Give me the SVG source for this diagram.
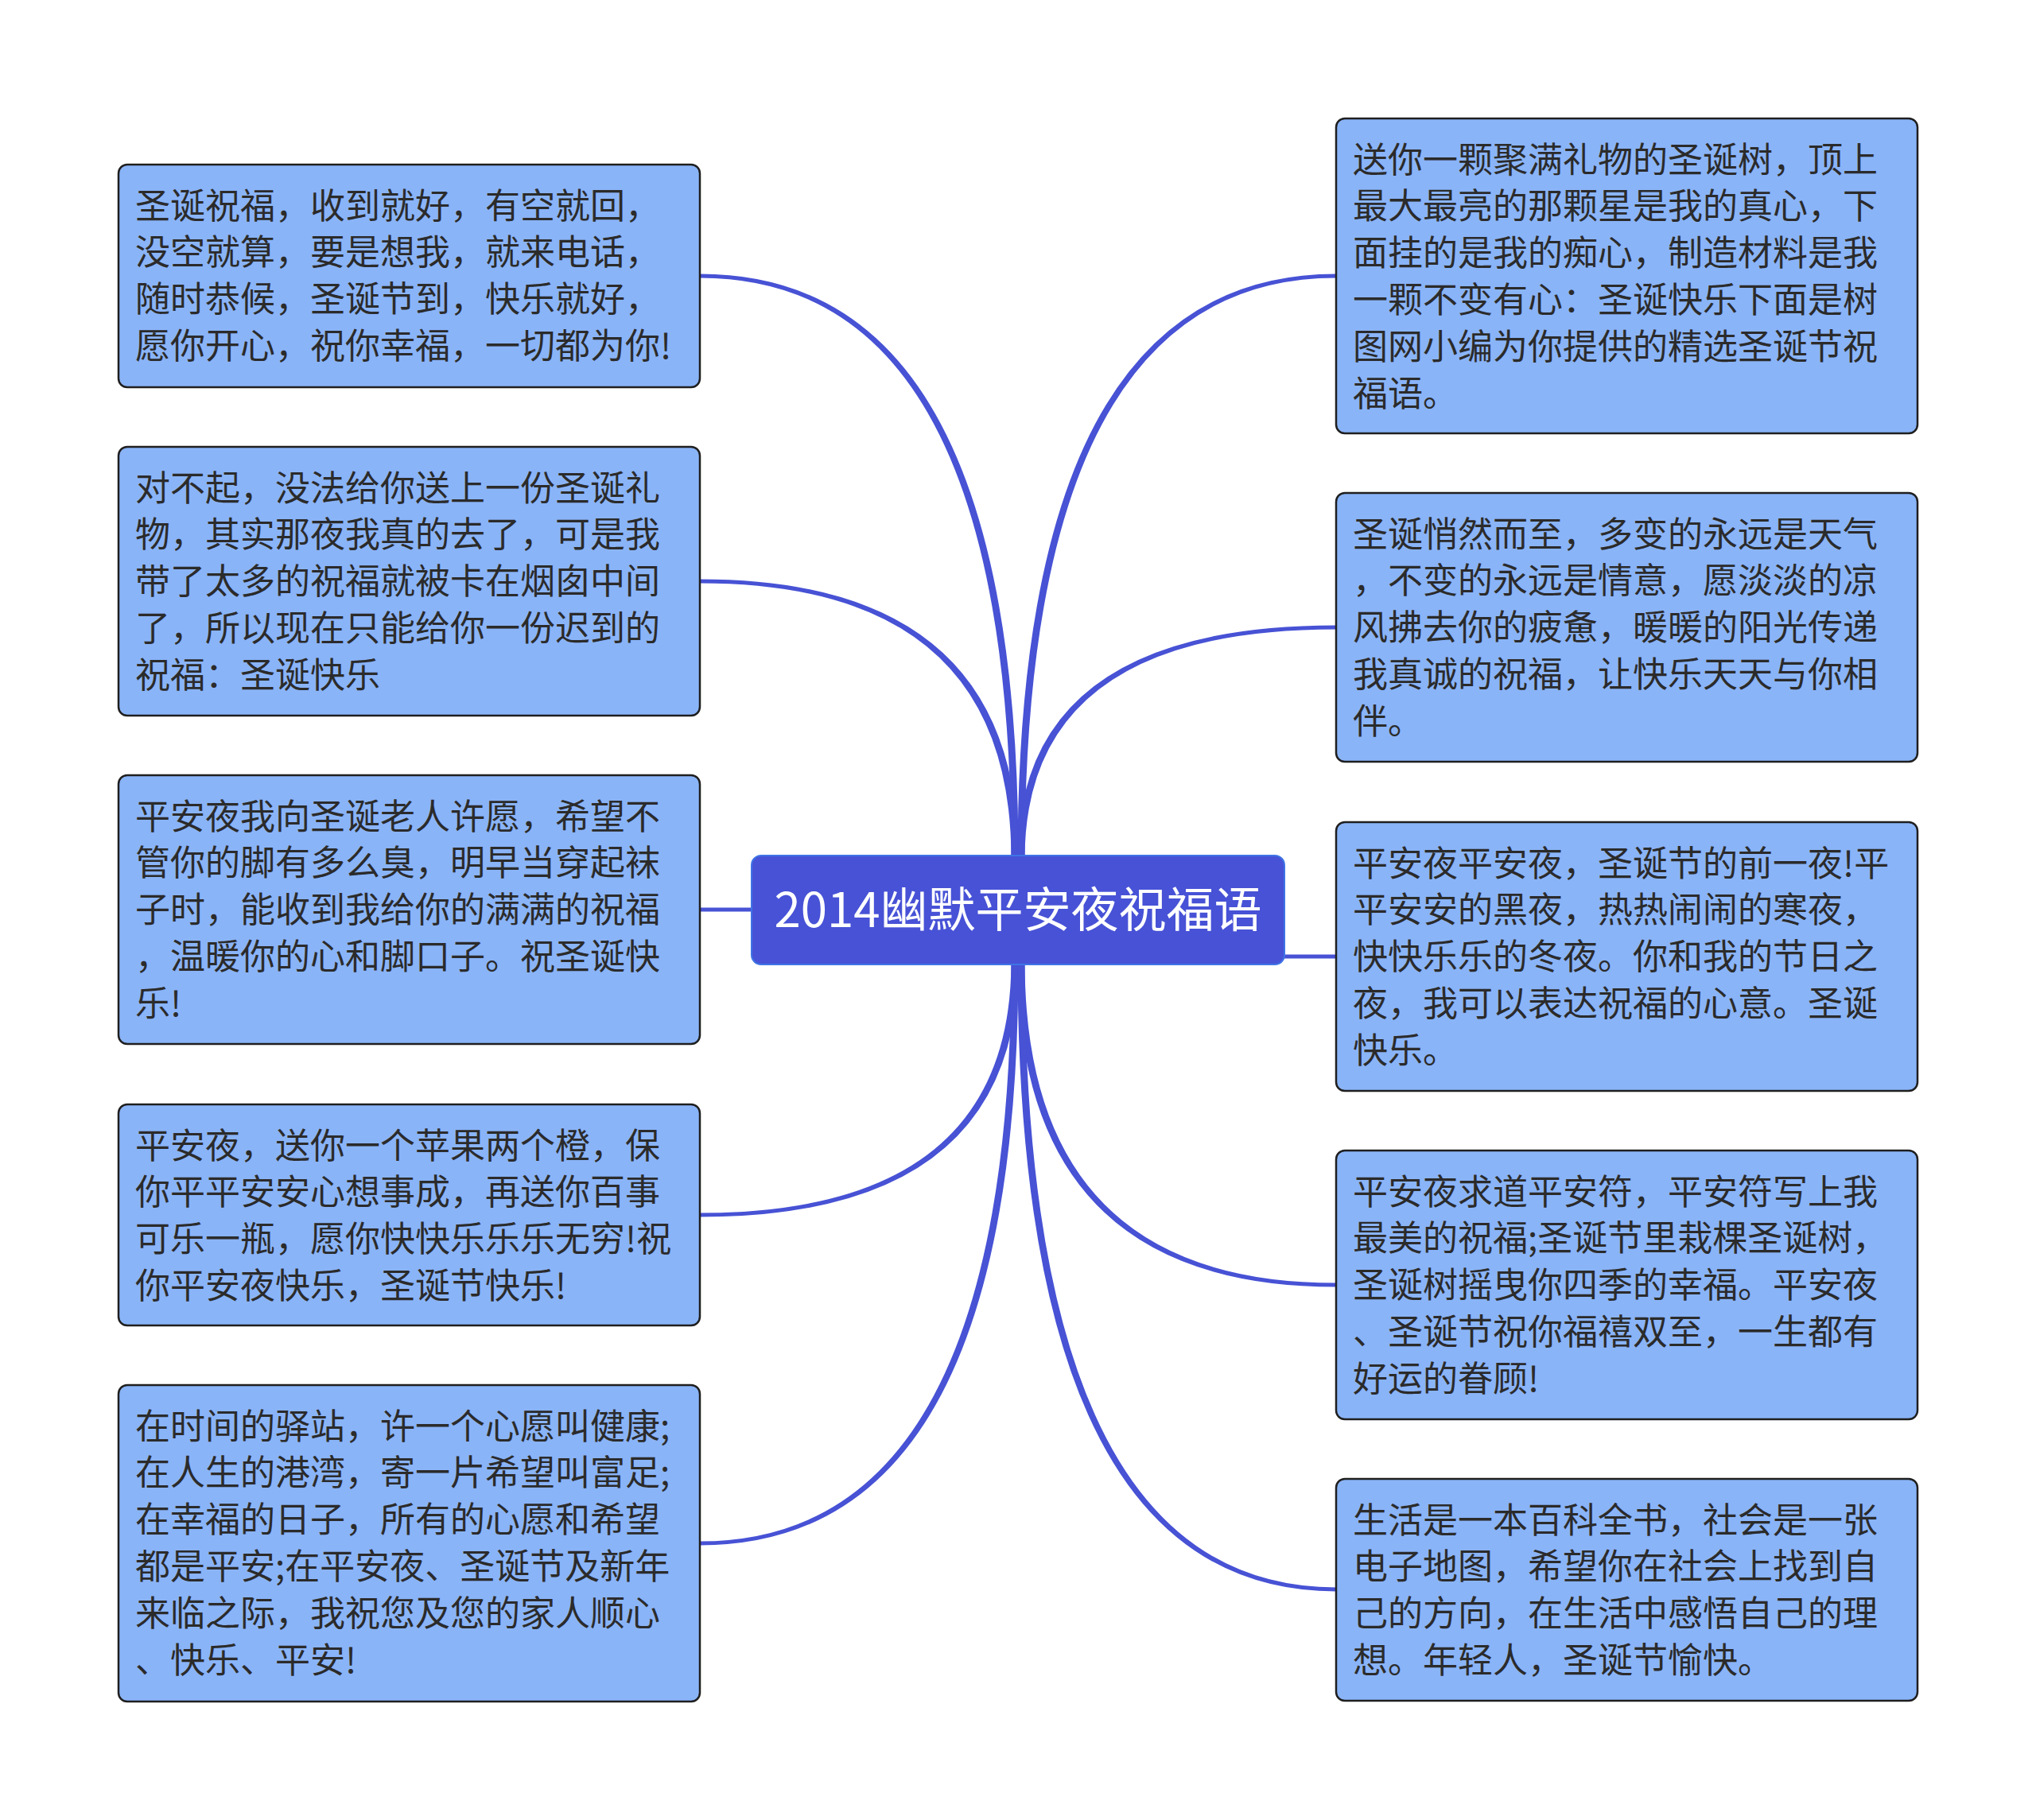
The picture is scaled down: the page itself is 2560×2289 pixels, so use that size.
<svg xmlns="http://www.w3.org/2000/svg" width="2560" height="2289" viewBox="0 0 2560 2289">
<style>
.node rect{fill:#8ab4f8;stroke:#1f1f1f;stroke-width:2.5}
.node text{font-family:"Noto Sans CJK SC","Noto Sans",sans-serif;font-size:44px;fill:#2b2b2b}
.conn path{fill:#4752d5;stroke:none}
.conn line{stroke:#4752d5;stroke-width:5}
#center rect{fill:#4752d6;stroke:#3f74e6;stroke-width:2}
#center text{font-family:"Noto Sans CJK SC","Noto Sans",sans-serif;font-size:60px;fill:#ffffff;text-anchor:middle}
</style>
<rect width="2560" height="2289" fill="#ffffff"/>
<g class="conn" id="connectors">
<path d="M880,344.5 Q1280.5,344.5 1280.5,1080 L1271.5,1080 Q1271.5,349.5 880,349.5Z"/>
<path d="M880,728.5 Q1280.5,728.5 1280.5,1080 L1271.5,1080 Q1271.5,733.5 880,733.5Z"/>
<line x1="878" y1="1144" x2="950" y2="1144"/>
<path d="M880,1530.5 Q1280.5,1530.5 1280.5,1209 L1271.5,1209 Q1271.5,1525.5 880,1525.5Z"/>
<path d="M880,1943.5 Q1280.5,1943.5 1280.5,1209 L1271.5,1209 Q1271.5,1938.5 880,1938.5Z"/>
<path d="M1680,344.5 Q1279.5,344.5 1279.5,1080 L1288.5,1080 Q1288.5,349.5 1680,349.5Z"/>
<path d="M1680,786.5 Q1279.5,786.5 1279.5,1080 L1288.5,1080 Q1288.5,791.5 1680,791.5Z"/>
<line x1="1610" y1="1203" x2="1682" y2="1203"/>
<path d="M1680,1618.5 Q1279.5,1618.5 1279.5,1209 L1288.5,1209 Q1288.5,1613.5 1680,1613.5Z"/>
<path d="M1680,2001.5 Q1279.5,2001.5 1279.5,1209 L1288.5,1209 Q1288.5,1996.5 1680,1996.5Z"/>
</g>
<g id="center">
<rect x="945" y="1076" width="670" height="137" rx="12"/>
<text x="1280" y="1166">2014幽默平安夜祝福语</text>
</g>
<g class="node" id="left1">
<rect x="149" y="207" width="731" height="280" rx="11"/>
<text x="170" y="274.5">圣诞祝福，收到就好，有空就回，</text>
<text x="170" y="333.3">没空就算，要是想我，就来电话，</text>
<text x="170" y="392.1">随时恭候，圣诞节到，快乐就好，</text>
<text x="170" y="450.9">愿你开心，祝你幸福，一切都为你!</text>
</g>
<g class="node" id="left2">
<rect x="149" y="562" width="731" height="338" rx="11"/>
<text x="170" y="629.5">对不起，没法给你送上一份圣诞礼</text>
<text x="170" y="688.3">物，其实那夜我真的去了，可是我</text>
<text x="170" y="747.1">带了太多的祝福就被卡在烟囱中间</text>
<text x="170" y="805.9">了，所以现在只能给你一份迟到的</text>
<text x="170" y="864.7">祝福：圣诞快乐</text>
</g>
<g class="node" id="left3">
<rect x="149" y="975" width="731" height="338" rx="11"/>
<text x="170" y="1042.5">平安夜我向圣诞老人许愿，希望不</text>
<text x="170" y="1101.3">管你的脚有多么臭，明早当穿起袜</text>
<text x="170" y="1160.1">子时，能收到我给你的满满的祝福</text>
<text x="170" y="1218.9">，温暖你的心和脚口子。祝圣诞快</text>
<text x="170" y="1277.7">乐!</text>
</g>
<g class="node" id="left4">
<rect x="149" y="1389" width="731" height="278" rx="11"/>
<text x="170" y="1456.5">平安夜，送你一个苹果两个橙，保</text>
<text x="170" y="1515.3">你平平安安心想事成，再送你百事</text>
<text x="170" y="1574.1">可乐一瓶，愿你快快乐乐乐无穷!祝</text>
<text x="170" y="1632.9">你平安夜快乐，圣诞节快乐!</text>
</g>
<g class="node" id="left5">
<rect x="149" y="1742" width="731" height="398" rx="11"/>
<text x="170" y="1809.5">在时间的驿站，许一个心愿叫健康;</text>
<text x="170" y="1868.3">在人生的港湾，寄一片希望叫富足;</text>
<text x="170" y="1927.1">在幸福的日子，所有的心愿和希望</text>
<text x="170" y="1985.9">都是平安;在平安夜、圣诞节及新年</text>
<text x="170" y="2044.7">来临之际，我祝您及您的家人顺心</text>
<text x="170" y="2103.5">、快乐、平安!</text>
</g>
<g class="node" id="right1">
<rect x="1680" y="149" width="731" height="396" rx="11"/>
<text x="1701" y="216.5">送你一颗聚满礼物的圣诞树，顶上</text>
<text x="1701" y="275.3">最大最亮的那颗星是我的真心，下</text>
<text x="1701" y="334.1">面挂的是我的痴心，制造材料是我</text>
<text x="1701" y="392.9">一颗不变有心：圣诞快乐下面是树</text>
<text x="1701" y="451.7">图网小编为你提供的精选圣诞节祝</text>
<text x="1701" y="510.5">福语。</text>
</g>
<g class="node" id="right2">
<rect x="1680" y="620" width="731" height="338" rx="11"/>
<text x="1701" y="687.5">圣诞悄然而至，多变的永远是天气</text>
<text x="1701" y="746.3">，不变的永远是情意，愿淡淡的凉</text>
<text x="1701" y="805.1">风拂去你的疲惫，暖暖的阳光传递</text>
<text x="1701" y="863.9">我真诚的祝福，让快乐天天与你相</text>
<text x="1701" y="922.7">伴。</text>
</g>
<g class="node" id="right3">
<rect x="1680" y="1034" width="731" height="338" rx="11"/>
<text x="1701" y="1101.5">平安夜平安夜，圣诞节的前一夜!平</text>
<text x="1701" y="1160.3">平安安的黑夜，热热闹闹的寒夜，</text>
<text x="1701" y="1219.1">快快乐乐的冬夜。你和我的节日之</text>
<text x="1701" y="1277.9">夜，我可以表达祝福的心意。圣诞</text>
<text x="1701" y="1336.7">快乐。</text>
</g>
<g class="node" id="right4">
<rect x="1680" y="1447" width="731" height="338" rx="11"/>
<text x="1701" y="1514.5">平安夜求道平安符，平安符写上我</text>
<text x="1701" y="1573.3">最美的祝福;圣诞节里栽棵圣诞树，</text>
<text x="1701" y="1632.1">圣诞树摇曳你四季的幸福。平安夜</text>
<text x="1701" y="1690.9">、圣诞节祝你福禧双至，一生都有</text>
<text x="1701" y="1749.7">好运的眷顾!</text>
</g>
<g class="node" id="right5">
<rect x="1680" y="1860" width="731" height="279" rx="11"/>
<text x="1701" y="1927.5">生活是一本百科全书，社会是一张</text>
<text x="1701" y="1986.3">电子地图，希望你在社会上找到自</text>
<text x="1701" y="2045.1">己的方向，在生活中感悟自己的理</text>
<text x="1701" y="2103.9">想。年轻人，圣诞节愉快。</text>
</g>
</svg>
